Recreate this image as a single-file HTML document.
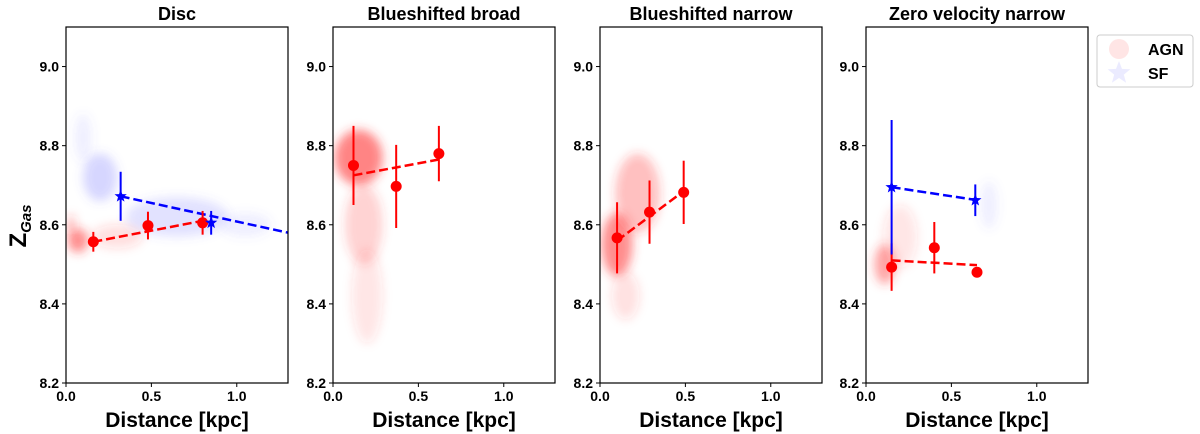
<!DOCTYPE html>
<html><head><meta charset="utf-8"><style>
html,body{margin:0;padding:0;background:#fff;width:1200px;height:434px;overflow:hidden}
svg text{font-family:"Liberation Sans","DejaVu Sans",sans-serif;font-weight:bold}
</style></head><body>
<svg id="chart" width="1200" height="434" xmlns="http://www.w3.org/2000/svg">
<defs>
<filter id="blur" filterUnits="userSpaceOnUse" x="0" y="0" width="1200" height="434"><feGaussianBlur stdDeviation="5"/></filter>
</defs>
</svg>
<script>
const panelTitles = ["Disc","Blueshifted broad","Blueshifted narrow","Zero velocity narrow"];
const xTicks = [0,0.5,1.0];
const xTickLabels = ["0.0","0.5","1.0"];
const yTicks = [8.2,8.4,8.6,8.8,9.0];
const yTickLabels = ["8.2","8.4","8.6","8.8","9.0"];
// binned points: [panel, x, y, err]
const agnPoints = [[0,0.16,8.557,0.025],[0,0.48,8.598,0.035],[0,0.80,8.605,0.03],
 [1,0.12,8.75,0.10],[1,0.37,8.697,0.105],[1,0.62,8.78,0.07],
 [2,0.10,8.567,0.09],[2,0.29,8.632,0.08],[2,0.49,8.682,0.08],
 [3,0.15,8.493,0.06],[3,0.40,8.542,0.065],[3,0.65,8.48,0]];
const sfPoints = [[0,0.32,8.672,0.062],[0,0.85,8.605,0.03],[3,0.15,8.695,0.17],[3,0.64,8.662,0.04]];
// fit lines: [panel, x0, y0, x1, y1]
const agnFits = [[0,0.16,8.557,0.80,8.61],[1,0.12,8.725,0.62,8.765],[2,0.10,8.56,0.49,8.685],[3,0.15,8.51,0.65,8.498]];
const sfFits = [[0,0.32,8.672,1.30,8.58],[3,0.15,8.695,0.64,8.663]];
// density clouds: [panel, cx, cy, sx, sy, opacity]
const agnClouds = [[0,0.07,8.56,0.06,0.03,0.55],[0,0.03,8.6,0.02,0.025,0.4],[0,0.3,8.57,0.15,0.03,0.15],
 [1,0.15,8.77,0.14,0.07,0.6],[1,0.18,8.6,0.11,0.1,0.22],[1,0.2,8.42,0.09,0.12,0.12],
 [2,0.1,8.55,0.09,0.08,0.55],[2,0.22,8.68,0.13,0.1,0.3],[2,0.15,8.42,0.08,0.06,0.14],
 [3,0.11,8.5,0.06,0.05,0.45],[3,0.2,8.57,0.1,0.08,0.12]];
const sfClouds = [[0,0.2,8.72,0.1,0.06,0.25],[0,0.1,8.82,0.05,0.06,0.1],[0,0.65,8.62,0.3,0.05,0.18],[0,1.05,8.6,0.15,0.03,0.1],
 [3,0.72,8.65,0.05,0.06,0.1]];

const svg = document.getElementById('chart');
const NS = "http://www.w3.org/2000/svg";
const panelLeft = [66,333,600,866], W = 222, TOP = 27, BOT = 383;
const XMAX = 1.3, YMIN = 8.2, YMAX = 9.1;
function sx(p,v){return panelLeft[p] + v/XMAX*W;}
function sy(v){return BOT - (v-YMIN)/(YMAX-YMIN)*(BOT-TOP);}
function mk(tag, attrs, parent){const e=document.createElementNS(NS,tag);for(const k in attrs)e.setAttribute(k,attrs[k]);(parent||svg).appendChild(e);return e;}
function star(cx,cy,r){let pts=[];for(let i=0;i<10;i++){const a=-Math.PI/2+i*Math.PI/5;const rr=i%2?r*0.42:r;pts.push((cx+rr*Math.cos(a)).toFixed(1)+","+(cy+rr*Math.sin(a)).toFixed(1));}return pts.join(" ");}

for(let p=0;p<4;p++){
  const g = mk('g',{});
  
  
  const clip = mk('clipPath',{id:'clip'+p},g);
  mk('rect',{x:panelLeft[p],y:TOP,width:W,height:BOT-TOP},clip);
  const cg = mk('g',{'clip-path':'url(#clip'+p+')'},g);
  agnClouds.filter(c=>c[0]===p).forEach(c=>{
    const e=mk('ellipse',{cx:sx(p,c[1]),cy:sy(c[2]),rx:c[3]/XMAX*W,ry:c[4]/(YMAX-YMIN)*(BOT-TOP),fill:'#ff3030','fill-opacity':c[5],filter:'url(#blur)'},cg);
    
    
  });
  sfClouds.filter(c=>c[0]===p).forEach(c=>{
    const e=mk('ellipse',{cx:sx(p,c[1]),cy:sy(c[2]),rx:c[3]/XMAX*W,ry:c[4]/(YMAX-YMIN)*(BOT-TOP),fill:'#6060ff','fill-opacity':c[5],filter:'url(#blur)'},cg);
    
    
  });
  agnFits.filter(f=>f[0]===p).forEach(f=>{
    const l=mk('line',{x1:sx(p,f[1]),y1:sy(f[2]),x2:sx(p,f[3]),y2:sy(f[4]),stroke:'#ff0000','stroke-width':2.5,'stroke-dasharray':'9,4'},cg);
    
    
  });
  sfFits.filter(f=>f[0]===p).forEach(f=>{
    const l=mk('line',{x1:sx(p,f[1]),y1:sy(f[2]),x2:sx(p,f[3]),y2:sy(f[4]),stroke:'#0000ff','stroke-width':2.5,'stroke-dasharray':'9,4'},cg);
    
    
  });
  agnPoints.filter(d=>d[0]===p).forEach(d=>{
    const x=sx(p,d[1]);
    const eb=mk('line',{x1:x,x2:x,y1:sy(d[2]-d[3]),y2:sy(d[2]+d[3]),stroke:'#ff0000','stroke-width':2},cg);
    
    
    const c=mk('circle',{cx:x,cy:sy(d[2]),r:5.5,fill:'#ff0000'},cg);
    
    
  });
  sfPoints.filter(d=>d[0]===p).forEach(d=>{
    const x=sx(p,d[1]);
    const eb=mk('line',{x1:x,x2:x,y1:sy(d[2]-d[3]),y2:sy(d[2]+d[3]),stroke:'#0000ff','stroke-width':2},cg);
    
    
    const s=mk('polygon',{points:star(x,sy(d[2]),6.5),fill:'#0000ff'},cg);
    
    
  });
  const fr=mk('rect',{x:panelLeft[p],y:TOP,width:W,height:BOT-TOP,fill:'none',stroke:'#000','stroke-width':1.2},g);
  
  
  xTicks.forEach((t,i)=>{
    const x=sx(p,t);
    mk('line',{x1:x,x2:x,y1:BOT,y2:BOT+4,stroke:'#000','stroke-width':1},g);
    const tx=mk('text',{x:x,y:BOT+18,'text-anchor':'middle','font-size':14},g);
    tx.textContent=xTickLabels[i];
    
    
  });
  yTicks.forEach((t,i)=>{
    const y=sy(t);
    mk('line',{x1:panelLeft[p]-4,x2:panelLeft[p],y1:y,y2:y,stroke:'#000','stroke-width':1},g);
    const tx=mk('text',{x:panelLeft[p]-7,y:y+5,'text-anchor':'end','font-size':14},g);
    tx.textContent=yTickLabels[i];
    
    
  });
  const ti=mk('text',{x:panelLeft[p]+W/2,y:20,'text-anchor':'middle','font-size':18},g);
  ti.textContent=panelTitles[p];
  
  
  const xl=mk('text',{x:panelLeft[p]+W/2,y:427,'text-anchor':'middle','font-size':21},g);
  xl.textContent='Distance [kpc]';
  
  
}
const yl=mk('text',{transform:'translate(26,226) rotate(-90)','text-anchor':'middle','font-size':24});
yl.innerHTML='Z<tspan font-size="15" dy="5" font-style="italic">Gas</tspan>';



const lg=mk('g',{});


mk('rect',{x:1097,y:35,width:96,height:52,rx:3,fill:'#fff',stroke:'#ccc','stroke-width':1},lg);
const l1=mk('circle',{cx:1119,cy:49,r:10,fill:'#ff0000','fill-opacity':0.1},lg);


const l2=mk('polygon',{points:star(1119,73,12),fill:'#0000ff','fill-opacity':0.08},lg);


const t1=mk('text',{x:1148,y:55,'font-size':16},lg);t1.textContent='AGN';


const t2=mk('text',{x:1148,y:79,'font-size':16},lg);t2.textContent='SF';


</script>
</body></html>
